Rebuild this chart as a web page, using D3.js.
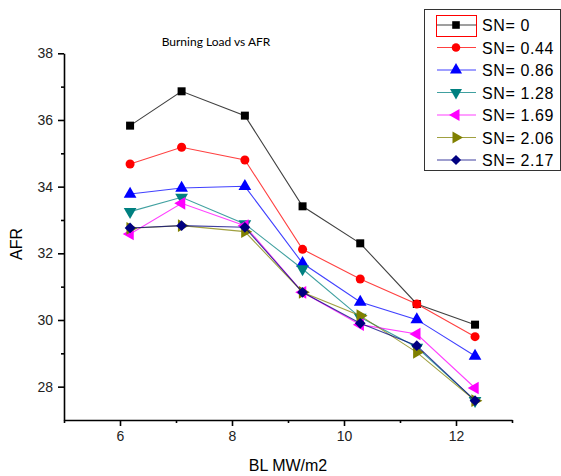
<html>
<head>
<style>
  body { margin: 0; background: #fff; }
  .axis path, .axis line { stroke: #000; stroke-width: 1.6px; }
  .axis text { font-family: Arial, "Liberation Sans", sans-serif; font-size: 14px; fill: #222; }
</style>
</head>
<body>
<svg width="561" height="476"></svg>
<script src="https://cdn.jsdelivr.net/npm/d3@7"></script>
<script>

var bl = [6.18, 7.10, 8.23, 9.26, 10.29, 11.30, 12.34];

var sn0    = [35.83, 36.86, 36.13, 33.41, 32.30, 30.48, 29.86];
var sn044  = [34.68, 35.18, 34.80, 32.12, 31.23, 30.48, 29.50];
var sn086  = [33.78, 33.96, 34.01, 31.70, 30.54, 30.01, 28.92];
var sn128  = [33.25, 33.68, 32.88, 31.53, 30.08, 29.18, 27.58];
var sn169  = [32.58, 33.50, 32.83, 30.83, 29.86, 29.58, 27.96];
var sn206  = [32.75, 32.83, 32.65, 30.83, 30.13, 29.03, 27.58];
var sn217  = [32.76, 32.83, 32.78, 30.83, 29.90, 29.23, 27.58];

var names = ["SN= 0", "SN= 0.44", "SN= 0.86", "SN= 1.28", "SN= 1.69", "SN= 2.06", "SN= 2.17"];

var xTicks = [6, 8, 10, 12];
var yTicks = [28, 30, 32, 34, 36, 38];

var series = [
  {name: names[0], values: sn0,   color: "#000000", symbol: d3.symbolSquare,   rot: 0,   size: 64},
  {name: names[1], values: sn044, color: "#ff0000", symbol: d3.symbolCircle,   rot: 0,   size: 64},
  {name: names[2], values: sn086, color: "#0000ff", symbol: d3.symbolTriangle, rot: 0,   size: 70},
  {name: names[3], values: sn128, color: "#008080", symbol: d3.symbolTriangle, rot: 180, size: 70},
  {name: names[4], values: sn169, color: "#ff00ff", symbol: d3.symbolTriangle, rot: -90, size: 70},
  {name: names[5], values: sn206, color: "#808000", symbol: d3.symbolTriangle, rot: 90,  size: 70},
  {name: names[6], values: sn217, color: "#000080", symbol: d3.symbolSquare,   rot: 45,  size: 58}
];

var svg = d3.select("svg");

var x = d3.scaleLinear().domain([5, 13]).range([64, 512]);
var y = d3.scaleLinear().domain([27, 38]).range([420, 53.3]);

// minor ticks first, then major axis
svg.append("g")
    .attr("class", "axis")
    .attr("transform", "translate(0,420)")
    .call(d3.axisBottom(x).tickValues([5, 7, 9, 11, 13]).tickSize(3).tickFormat(""))
    .select(".domain").remove();
svg.append("g")
    .attr("class", "axis")
    .attr("transform", "translate(64,0)")
    .call(d3.axisLeft(y).tickValues([29, 31, 33, 35, 37]).tickSize(3).tickFormat(""))
    .select(".domain").remove();

svg.append("g")
    .attr("class", "axis")
    .attr("transform", "translate(0,420)")
    .call(d3.axisBottom(x).tickValues(xTicks).tickSize(6).tickSizeOuter(0).tickPadding(5));

svg.append("g")
    .attr("class", "axis")
    .attr("transform", "translate(64,0)")
    .call(d3.axisLeft(y).tickValues(yTicks).tickSize(6).tickSizeOuter(0).tickPadding(5));

// axis titles
svg.append("text")
    .attr("x", 288).attr("y", 471)
    .attr("text-anchor", "middle")
    .style("font-family", "Arial, 'Liberation Sans', sans-serif")
    .style("font-size", "16px")
    .text("BL MW/m2");

svg.append("text")
    .attr("transform", "translate(22,244) rotate(-90)")
    .attr("text-anchor", "middle")
    .style("font-family", "Arial, 'Liberation Sans', sans-serif")
    .style("font-size", "16px")
    .text("AFR");

svg.append("text")
    .attr("x", 216).attr("y", 46)
    .attr("text-anchor", "middle")
    .style("font-family", "Lato, 'Open Sans', sans-serif")
    .style("font-size", "12px")
    .text("Burning Load vs AFR");

var line = d3.line()
    .x(function(d, i) { return x(bl[i]); })
    .y(function(d) { return y(d); });

series.forEach(function(s) {
  var g = svg.append("g");
  g.append("path")
      .datum(s.values)
      .attr("fill", "none")
      .attr("stroke", s.color)
      .attr("stroke-opacity", 0.75)
      .attr("stroke-width", 1.1)
      .attr("d", line);
  g.selectAll("path.pt")
      .data(s.values)
    .enter().append("path")
      .attr("class", "pt")
      .attr("d", d3.symbol().type(s.symbol).size(s.size))
      .attr("fill", s.color)
      .attr("transform", function(d, i) {
        return "translate(" + x(bl[i]) + "," + y(d) + ") rotate(" + s.rot + ")";
      });
});

// legend
var legend = svg.append("g");
legend.append("rect")
    .attr("x", 424.5).attr("y", 9.5)
    .attr("width", 136).attr("height", 161)
    .attr("fill", "#fff")
    .attr("stroke", "#333")
    .attr("stroke-width", 1);

legend.append("rect")
    .attr("x", 436.5).attr("y", 15.5)
    .attr("width", 40).attr("height", 21)
    .attr("fill", "none")
    .attr("stroke", "#ff0000")
    .attr("stroke-width", 1);

series.forEach(function(s, i) {
  var cy = 25 + i * 22.5;
  legend.append("line")
      .attr("x1", 437).attr("x2", 476)
      .attr("y1", cy).attr("y2", cy)
      .attr("stroke", s.color)
      .attr("stroke-opacity", 0.75)
      .attr("stroke-width", 1.1);
  legend.append("path")
      .attr("d", d3.symbol().type(s.symbol).size(s.size * 0.9))
      .attr("fill", s.color)
      .attr("transform", "translate(456," + cy + ") rotate(" + s.rot + ")");
  legend.append("text")
      .attr("x", 482).attr("y", cy + 6)
      .style("font-family", "Arial, 'Liberation Sans', sans-serif")
      .style("font-size", "16px")
      .style("letter-spacing", "0.6px")
      .text(s.name);
});

</script>
</body>
</html>
